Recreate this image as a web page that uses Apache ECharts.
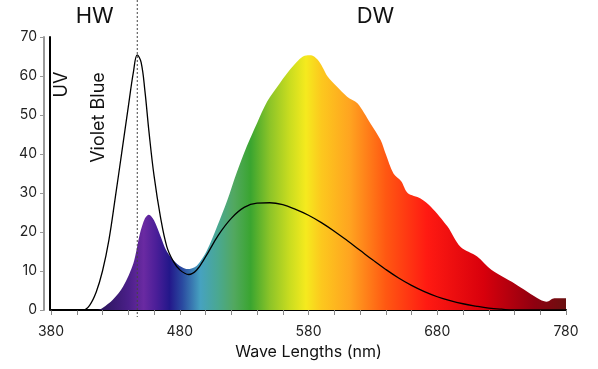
<!DOCTYPE html>
<html>
<head>
<meta charset="utf-8">
<script src="https://cdn.jsdelivr.net/npm/echarts@6/dist/echarts.min.js"></script>
<style>
  html, body { margin: 0; padding: 0; background: #fff; }
  #chart { width: 598px; height: 369px; }
</style>
</head>
<body>
<div id="chart"></div>
<script>
// ---- data ----
const dwWavelengths = [380, 416, 420, 428, 436, 444, 449, 453, 456, 460, 465, 470, 478, 486, 493, 501, 509, 517, 524, 532, 540, 548, 558, 566, 572, 577, 582, 587, 591, 595, 602, 610, 618, 628, 636, 640, 646, 652, 657, 667, 675, 688, 698, 711, 722, 740, 760, 765, 771, 780];
const dwValues      = [0, 0, 0.5, 2.6, 6, 12, 19.5, 23.5, 24.4, 23, 19, 15, 11.8, 10.5, 11.3, 15.2, 21.4, 28.2, 35, 41.9, 47.9, 53.5, 58.3, 61.8, 64, 65.2, 65.3, 64.2, 62.2, 59.8, 57.3, 54.7, 53, 47.9, 43.6, 40, 35, 33, 30, 28.6, 26.5, 21.4, 16.2, 13.7, 10.3, 6.8, 2.6, 2.1, 3, 3];

const hwWavelengths = [380, 400, 405, 410, 415, 420, 425, 430, 435, 440, 444, 447, 450, 453, 456, 460, 465, 470, 475, 480, 487, 493, 500, 510, 520, 530, 540, 550, 560, 570, 580, 590, 600, 610, 620, 630, 640, 650, 660, 670, 680, 690, 700, 710, 720, 730, 740, 780];
const hwValues      = [0, 0, 0, 1.2, 4.5, 10, 18, 29, 40.5, 52, 61, 65.4, 63.5, 56, 46, 34.5, 23.9, 16.2, 12.5, 10.3, 9.1, 10.2, 13.6, 19.2, 23.5, 26.3, 27.4, 27.5, 27.0, 25.8, 24.3, 22.4, 20.2, 17.8, 15.3, 12.8, 10.4, 8.2, 6.3, 4.7, 3.4, 2.4, 1.6, 1.0, 0.5, 0.2, 0, 0];

const xMin = 380, xMax = 780, xStep = 20, xLabelStep = 100;
const yMin = 0, yMax = 70, yStep = 10;
const markerWavelength = 447;
const xAxisName = 'Wave Lengths (nm)';
const regionLabels = ['HW', 'DW'];
const bandLabels = ['UV', 'Violet Blue'];

// ---- styling ----
const spectrum = [
  [380, '#1a1040'], [420, '#2d1660'], [440, '#4a1f88'], [452, '#6a2aa2'],
  [462, '#4a1e98'], [472, '#23178a'], [482, '#2a4aa0'], [496, '#46a2c0'],
  [510, '#4aa890'], [522, '#52a860'], [535, '#3aa530'], [550, '#8cc428'],
  [565, '#c8dc20'], [578, '#f5ea1e'], [590, '#fcc81e'], [612, '#ffa420'],
  [640, '#ff5812'], [672, '#ff1a12'], [716, '#d8000c'], [755, '#900010'],
  [780, '#6a1010']
];
const FONT = 'Inter';

const chart = echarts.init(document.getElementById('chart'), null, { renderer: 'canvas' });

const pairs = (xs, ys) => xs.map((x, i) => [x, ys[i]]);

chart.setOption({
  animation: false,
  textStyle: { fontFamily: FONT },
  grid: { left: 51, right: 32, top: 37, bottom: 59 },
  xAxis: [
    {
      type: 'value', min: xMin, max: xMax, interval: xStep, offset: 8,
      name: xAxisName, nameLocation: 'middle', nameGap: 21,
      nameTextStyle: { fontSize: 16, color: '#111', fontFamily: FONT },
      axisLine: { lineStyle: { color: '#888', width: 1.5 } },
      axisTick: { length: 5, lineStyle: { color: '#888', width: 1 } },
      axisLabel: {
        fontSize: 14, color: '#222', margin: 7, fontFamily: FONT,
        formatter: v => ((v - xMin) % xLabelStep === 0 ? String(v) : '')
      },
      splitLine: { show: false }
    },
    {
      type: 'value', min: xMin, max: xMax, position: 'bottom', offset: 0,
      axisLine: { lineStyle: { color: '#000', width: 2 } },
      axisTick: { show: false }, axisLabel: { show: false }, splitLine: { show: false }
    }
  ],
  yAxis: [
    {
      type: 'value', min: yMin, max: yMax, interval: yStep, offset: 7,
      axisLine: { show: true, lineStyle: { color: '#999', width: 2 } },
      axisTick: { show: true, length: 4, lineStyle: { color: '#999', width: 1 } },
      axisLabel: { fontSize: 14, color: '#222', margin: 7, fontFamily: FONT },
      splitLine: { show: false }
    },
    {
      type: 'value', min: yMin, max: yMax, position: 'left', offset: 1.5,
      axisLine: { show: true, lineStyle: { color: '#000', width: 2 } },
      axisTick: { show: false }, axisLabel: { show: false }, splitLine: { show: false }
    }
  ],
  series: [
    {
      name: 'DW', type: 'line', data: pairs(dwWavelengths, dwValues),
      smooth: 0.3, symbol: 'none', lineStyle: { width: 0 },
      areaStyle: {
        opacity: 1,
        color: new echarts.graphic.LinearGradient(0, 0, 1, 0,
          spectrum.map(([nm, c]) => ({ offset: (nm - xMin) / (xMax - xMin), color: c })))
      },
      z: 2
    },
    {
      name: 'HW', type: 'line', data: pairs(hwWavelengths, hwValues),
      smooth: 0.4, symbol: 'none',
      lineStyle: { color: '#000', width: 1.3 },
      z: 3
    }
  ]
});

// decorations placed through the chart's own scales
const px = chart.convertToPixel({ xAxisIndex: 0, yAxisIndex: 0 }, [markerWavelength, yMin]);
const [xL] = chart.convertToPixel({ xAxisIndex: 0, yAxisIndex: 0 }, [xMin, yMin]);
const xDW = chart.convertToPixel({ xAxisIndex: 0 }, 632);
const xHW = chart.convertToPixel({ xAxisIndex: 0 }, 414);
const yTop = chart.convertToPixel({ yAxisIndex: 0 }, yMax);

chart.setOption({
  graphic: [
    {
      type: 'line', z: 10,
      shape: { x1: px[0], y1: 0, x2: px[0], y2: px[1] + 7 },
      style: { stroke: '#444', lineWidth: 1, lineDash: [2, 2] }
    },
    {
      type: 'text', x: xHW, y: yTop - 21, z: 10,
      style: { text: regionLabels[0], font: '22px ' + FONT, fill: '#111', textAlign: 'center', textVerticalAlign: 'middle' }
    },
    {
      type: 'text', x: xDW, y: yTop - 21, z: 10,
      style: { text: regionLabels[1], font: '22px ' + FONT, fill: '#111', textAlign: 'center', textVerticalAlign: 'middle' }
    },
    {
      type: 'text', x: xL + 10.5, y: 84.5, rotation: Math.PI / 2, z: 10,
      style: { text: bandLabels[0], font: '18px ' + FONT, fill: '#111', textAlign: 'center', textVerticalAlign: 'middle' }
    },
    {
      type: 'text', x: xL + 47.5, y: 117.5, rotation: Math.PI / 2, z: 10,
      style: { text: bandLabels[1], font: '18px ' + FONT, fill: '#111', textAlign: 'center', textVerticalAlign: 'middle' }
    }
  ]
});
</script>
</body>
</html>
